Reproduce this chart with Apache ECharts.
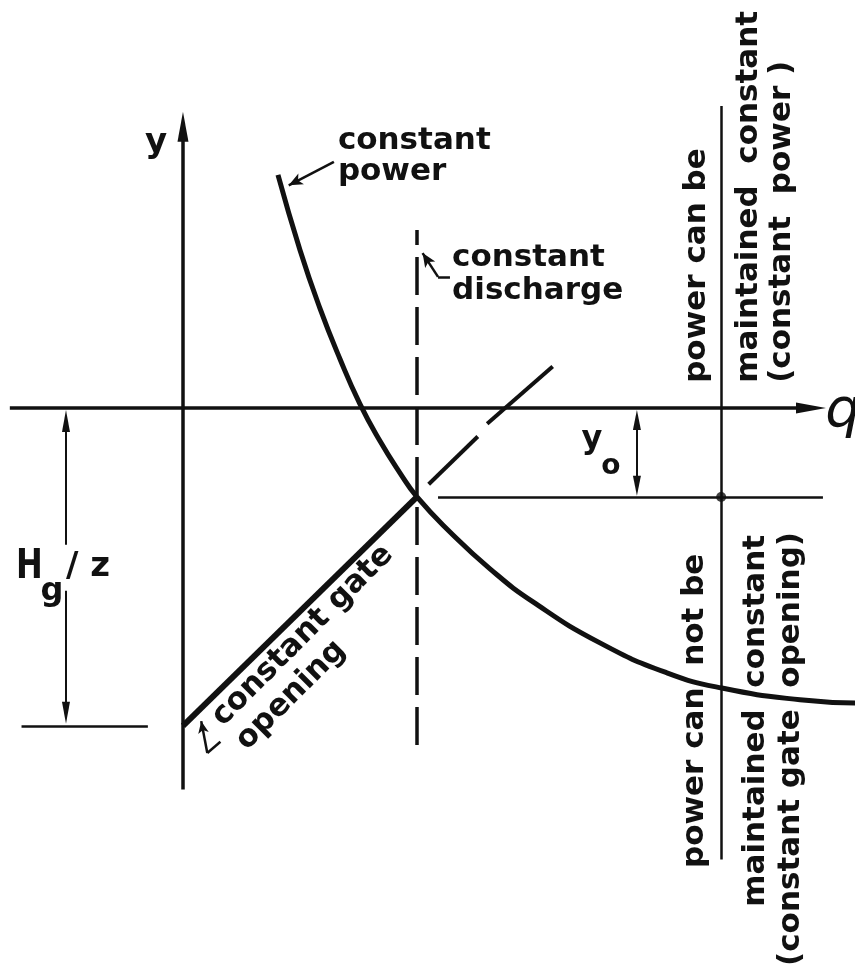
<!DOCTYPE html>
<html>
<head>
<meta charset="utf-8">
<script src="https://cdn.jsdelivr.net/npm/echarts@6/dist/echarts.min.js"></script>
<style>
html, body { margin: 0; padding: 0; background: #fff; }
#main { width: 855px; height: 972px; }
</style>
</head>
<body>
<div id="main"></div>
<script>
// constant power curve, q against y (y = 0 on the q axis, Hg/z = 1)
var powerQ = [0.406, 0.500, 0.585, 0.671, 0.756, 0.842, 0.927, 1.000, 1.141, 1.312, 1.496, 1.782, 2.068, 2.303, 2.637, 2.872];
var powerY = [0.733, 0.497, 0.314, 0.154, 0.013, -0.104, -0.204, -0.280, -0.390, -0.506, -0.610, -0.739, -0.833, -0.881, -0.918, -0.928];

// constant gate opening, from -Hg/z on the y axis to the operating point
var gateQ = [0, 1.0];
var gateY = [-1.0, -0.28];
// dashed continuation of the gate line (two dashes)
var gateExtQ = [1.05, 1.26, 1.30, 1.58];
var gateExtY = [-0.24, -0.09, -0.05, 0.13];

var dischargeQ = 1.0;            // constant discharge
var y0Level = -0.28;             // y0 below the q axis
var hgLevel = -1.0;              // Hg/z
var limitQ = 2.30;               // power can / can not be maintained
var hgQ = -0.50;                 // where the Hg/z dimension is drawn
var y0Q = 1.94;                  // where the y0 dimension is drawn

var qAxisRange = [-0.74, 2.684];
var yAxisRange = [-1.20, 0.884];
var dischargeRange = [-1.06, 0.56];
var y0LineRange = [1.09, 2.735];
var limitRange = [-1.42, 0.95];
var hgTickRange = [-0.69, -0.15];

var ink = '#111';

//基于准备好的dom，初始化echarts实例
var chart = echarts.init(document.getElementById('main'));

function seg(a, b, width, o) {
    o = o || {};
    return [
        {
            coord: a,
            symbol: o.from ? (o.fromSym || 'triangle') : 'none',
            symbolSize: o.from || 1,
            lineStyle: { color: ink, width: width, type: o.dash || 'solid', cap: 'butt' }
        },
        {
            coord: b,
            symbol: o.to ? (o.toSym || 'triangle') : 'none',
            symbolSize: o.to || 1
        }
    ];
}

var lines = [
    // q axis and y axis
    seg([qAxisRange[0], 0], [qAxisRange[1], 0], 3.5, { to: [11, 30] }),
    seg([0, yAxisRange[0]], [0, yAxisRange[1]], 3.5, { to: [11, 30] }),
    // constant discharge
    seg([dischargeQ, dischargeRange[0]], [dischargeQ, dischargeRange[1]], 3.5, { dash: [38, 12] }),
    // y0 level and the limit line
    seg([y0LineRange[0], y0Level], [y0LineRange[1], y0Level], 2.5),
    seg([limitQ, limitRange[0]], [limitQ, limitRange[1]], 2.5),
    // Hg/z dimension
    seg([hgQ, -0.43], [hgQ, -0.041], 2, { to: [8, 22] }),
    seg([hgQ, -0.575], [hgQ, -0.959], 2, { to: [8, 22] }),
    seg([hgTickRange[0], hgLevel], [hgTickRange[1], hgLevel], 2.5),
    // y0 dimension
    seg([y0Q, -0.038], [y0Q, -0.245], 2, { from: [8, 20], to: [8, 20] }),
    // dashed gate continuation
    seg([gateExtQ[0], gateExtY[0]], [gateExtQ[1], gateExtY[1]], 4),
    seg([gateExtQ[2], gateExtY[2]], [gateExtQ[3], gateExtY[3]], 4),
    // leaders
    seg([0.645, 0.774], [0.452, 0.700], 2.5, { to: [9, 14], toSym: 'arrow' }),
    seg([1.141, 0.412], [1.090, 0.412], 2.5),
    seg([1.090, 0.412], [1.024, 0.487], 2.5, { to: [9, 14], toSym: 'arrow' }),
    seg([0.160, -1.050], [0.104, -1.085], 2.5),
    seg([0.104, -1.085], [0.078, -0.985], 2.5, { to: [8, 12], toSym: 'arrow' })
];

var option = {
    backgroundColor: '#fff',
    animation: false,
    grid: { left: 0, right: 0, top: 0, bottom: 0 },
    xAxis: { type: 'value', min: -0.782, max: 2.872, show: false },
    yAxis: { type: 'value', min: -1.774, max: 1.283, show: false },
    series: [
        {
            name: 'constant power',
            type: 'line',
            data: powerQ.map(function (q, i) { return [q, powerY[i]]; }),
            smooth: 0.5,
            showSymbol: false,
            silent: true,
            lineStyle: { color: ink, width: 5 },
            z: 3
        },
        {
            name: 'constant gate opening',
            type: 'line',
            data: gateQ.map(function (q, i) { return [q, gateY[i]]; }),
            showSymbol: false,
            silent: true,
            lineStyle: { color: ink, width: 6 },
            z: 3
        },
        {
            type: 'scatter',
            data: [[limitQ, y0Level]],
            symbolSize: 10,
            silent: true,
            itemStyle: { color: ink },
            z: 4
        },
        {
            type: 'line',
            data: [[0, 0]],
            showSymbol: false,
            lineStyle: { opacity: 0 },
            silent: true,
            markLine: {
                silent: true,
                animation: false,
                symbol: ['none', 'none'],
                label: { show: false },
                emphasis: { disabled: true },
                lineStyle: { color: ink, width: 2, type: 'solid' },
                itemStyle: { color: ink },
                data: lines
            }
        }
    ]
};

chart.setOption(option);

// texts, placed in data coordinates
function txt(q, y, text, o) {
    o = o || {};
    var p = chart.convertToPixel({ xAxisIndex: 0, yAxisIndex: 0 }, [q, y]);
    var align = o.align || 'left', va = o.va || 'middle';
    return {
        type: 'text',
        x: p[0],
        y: p[1],
        rotation: o.rot || 0,
        scaleX: o.sx || 1,
        silent: true,
        z: 10,
        style: {
            text: text,
            fill: ink,
            fontFamily: 'DejaVu Sans',
            fontSize: o.size || 31,
            fontWeight: o.weight || 'bold',
            fontStyle: o.italic ? 'italic' : 'normal',
            lineHeight: o.lh || undefined,
            align: align, textAlign: align,
            verticalAlign: va, textVerticalAlign: va
        }
    };
}

var up = Math.PI / 2;
chart.setOption({
    graphic: [
        txt(-0.115, 0.833, 'y', { size: 34, align: 'center' }),
        txt(0.662, 0.887, 'constant\npower', { va: 'top', lh: 31 }),
        txt(1.150, 0.525, 'constant\ndischarge', { va: 'top', lh: 33 }),
        txt(1.748, -0.101, 'y', { size: 32, align: 'center' }),
        txt(1.829, -0.186, 'o', { size: 28, align: 'center' }),
        txt(-0.656, -0.503, 'H', { size: 40, align: 'center', sx: 0.8 }),
        txt(-0.560, -0.579, 'g', { size: 32, align: 'center' }),
        txt(-0.500, -0.500, '/ z', { size: 34 }),
        txt(2.821, -0.013, 'q', { size: 56, italic: true, weight: 'normal', align: 'center' }),
        txt(0.094, -0.948, 'constant gate\nopening', { rot: Math.PI / 4, va: 'top', lh: 34 }),
        // region notes, read bottom to top
        txt(2.197, 0.079, 'power can be', { rot: up }),
        txt(2.420, 0.079, 'maintained  constant', { rot: up }),
        txt(2.560, 0.079, '(constant  power )', { rot: up }),
        txt(2.188, -1.447, 'power can  not be', { rot: up }),
        txt(2.450, -1.569, 'maintained  constant', { rot: up }),
        txt(2.600, -1.755, '(constant gate  opening)', { rot: up })
    ]
});
</script>
</body>
</html>
